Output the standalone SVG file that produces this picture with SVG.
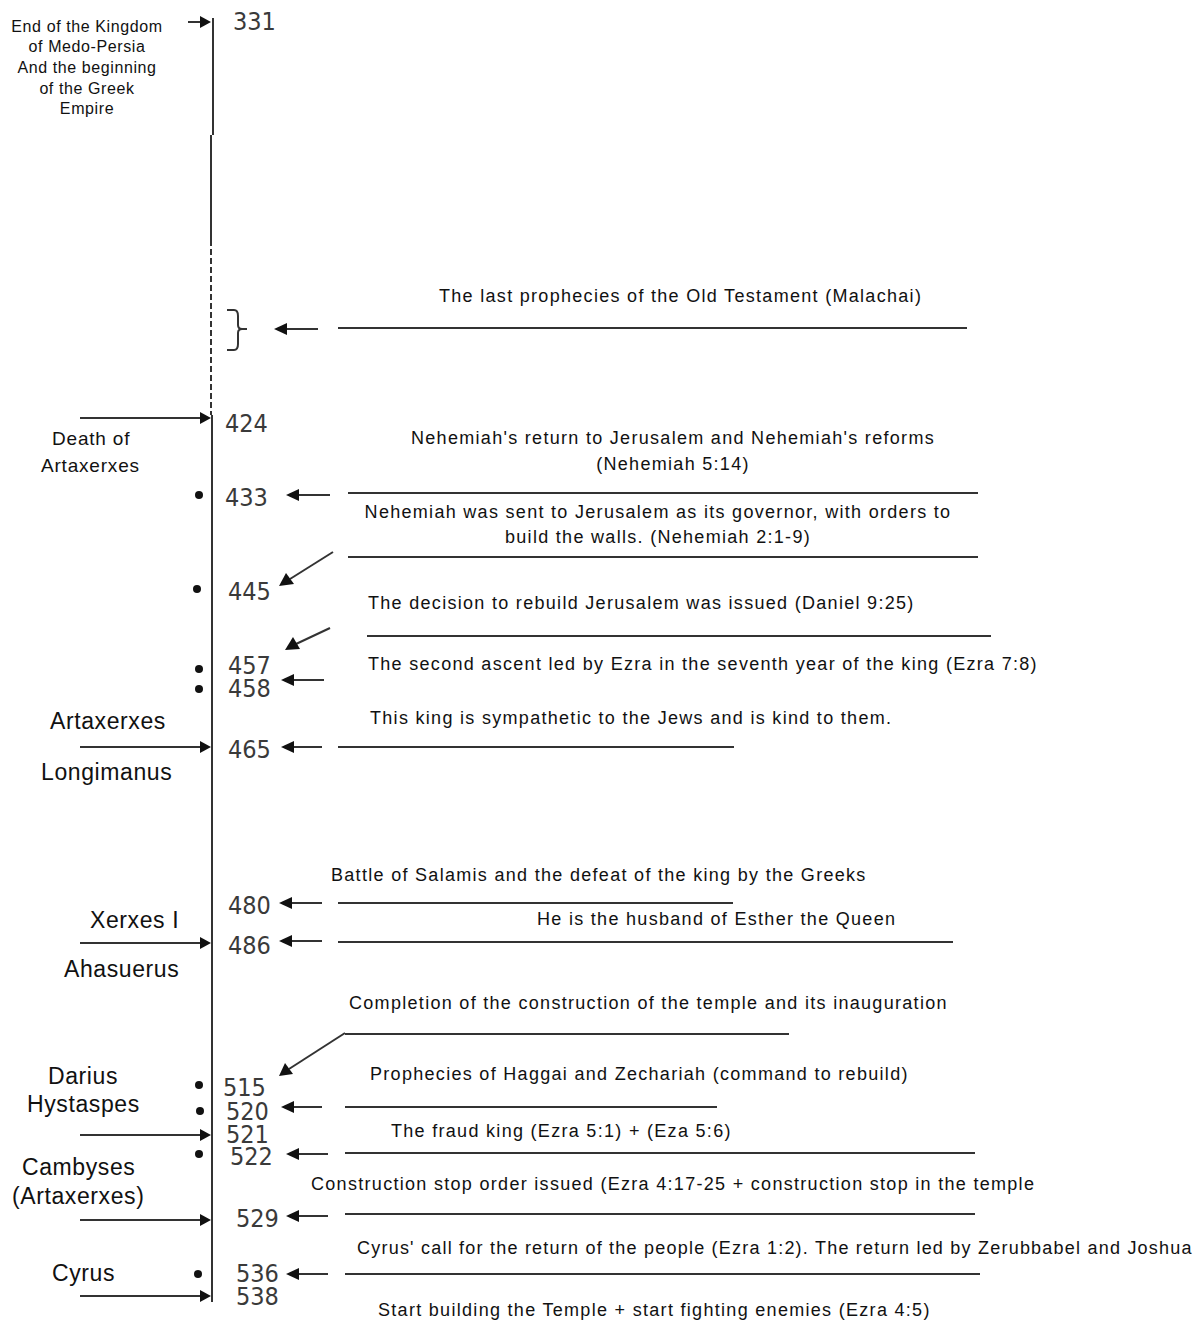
<svg xmlns="http://www.w3.org/2000/svg" width="1200" height="1323" viewBox="0 0 1200 1323">
<style>
.t{font-family:"Liberation Sans",Arial,sans-serif;font-size:18px;letter-spacing:1.3px;fill:#111}
.lt{font-family:"Liberation Sans",Arial,sans-serif;font-size:16px;letter-spacing:0.6px;fill:#111}
.k{font-family:"Liberation Sans",Arial,sans-serif;font-size:23px;letter-spacing:0.6px;fill:#111}
.kd{font-family:"Liberation Sans",Arial,sans-serif;font-size:19px;letter-spacing:0.8px;fill:#111}
.n{font-family:"DejaVu Sans Condensed","DejaVu Sans",sans-serif;font-size:25px;fill:#3a3a3a}
.ln{stroke:#333;stroke-width:2;fill:none}
.dot{fill:#111}
.ah{fill:#111}
</style>
<rect width="1200" height="1323" fill="#fff"/>

<g id="timeline">
<path class="ln" d="M213,18 V135 M211,135 V240"/>
<path class="ln" d="M211,240 V415" stroke-dasharray="6,3"/>
<path class="ln" d="M212,415 V1302"/>
</g>

<g id="connectors">
<line class="ln" x1="188" y1="22" x2="202" y2="22"/><path class="ah" d="M200,16 L211,22 L200,28 z"/>
<line class="ln" x1="80" y1="418" x2="202" y2="418"/><path class="ah" d="M200,412 L211,418 L200,424 z"/>
<line class="ln" x1="80" y1="747" x2="202" y2="747"/><path class="ah" d="M200,741 L211,747 L200,753 z"/>
<line class="ln" x1="80" y1="943" x2="202" y2="943"/><path class="ah" d="M200,937 L211,943 L200,949 z"/>
<line class="ln" x1="80" y1="1135" x2="202" y2="1135"/><path class="ah" d="M200,1129 L211,1135 L200,1141 z"/>
<line class="ln" x1="80" y1="1220" x2="202" y2="1220"/><path class="ah" d="M200,1214 L211,1220 L200,1226 z"/>
<line class="ln" x1="80" y1="1296" x2="202" y2="1296"/><path class="ah" d="M200,1290 L211,1296 L200,1302 z"/>

<line class="ln" x1="318" y1="329" x2="285" y2="329"/><path class="ah" d="M287,323 L274,329 L287,335 z"/>
<line class="ln" x1="330" y1="495" x2="297" y2="495"/><path class="ah" d="M299,489 L286,495 L299,501 z"/>
<line class="ln" x1="324" y1="680" x2="292" y2="680"/><path class="ah" d="M294,674 L281,680 L294,686 z"/>
<line class="ln" x1="322" y1="747" x2="292" y2="747"/><path class="ah" d="M294,741 L281,747 L294,753 z"/>
<line class="ln" x1="322" y1="903" x2="290" y2="903"/><path class="ah" d="M292,897 L279,903 L292,909 z"/>
<line class="ln" x1="322" y1="941" x2="290" y2="941"/><path class="ah" d="M292,935 L279,941 L292,947 z"/>
<line class="ln" x1="322" y1="1107" x2="292" y2="1107"/><path class="ah" d="M294,1101 L281,1107 L294,1113 z"/>
<line class="ln" x1="328" y1="1154" x2="297" y2="1154"/><path class="ah" d="M299,1148 L286,1154 L299,1160 z"/>
<line class="ln" x1="328" y1="1216" x2="297" y2="1216"/><path class="ah" d="M299,1210 L286,1216 L299,1222 z"/>
<line class="ln" x1="328" y1="1274" x2="297" y2="1274"/><path class="ah" d="M299,1268 L286,1274 L299,1280 z"/>

<line class="ln" x1="333" y1="552" x2="290" y2="579" stroke-width="1.6"/><path class="ah" d="M286,573 L279,586 L294,584 z"/>
<line class="ln" x1="330" y1="628" x2="296" y2="644" stroke-width="1.6"/><path class="ah" d="M293,637 L285,650 L300,649 z"/>
<line class="ln" x1="345" y1="1033" x2="289" y2="1069" stroke-width="1.6"/><path class="ah" d="M285,1063 L279,1076 L293,1074 z"/>

<line class="ln" x1="338" y1="328" x2="967" y2="328"/>
<line class="ln" x1="348" y1="493" x2="978" y2="493"/>
<line class="ln" x1="348" y1="557" x2="978" y2="557"/>
<line class="ln" x1="367" y1="636" x2="991" y2="636"/>
<line class="ln" x1="338" y1="747" x2="734" y2="747"/>
<line class="ln" x1="338" y1="903" x2="733" y2="903"/>
<line class="ln" x1="338" y1="942" x2="953" y2="942"/>
<line class="ln" x1="345" y1="1034" x2="789" y2="1034"/>
<line class="ln" x1="345" y1="1107" x2="717" y2="1107"/>
<line class="ln" x1="345" y1="1153" x2="975" y2="1153"/>
<line class="ln" x1="345" y1="1214" x2="975" y2="1214"/>
<line class="ln" x1="345" y1="1274" x2="980" y2="1274"/>
</g>

<g id="bracket">
<path class="ln" d="M227,310 H234 Q238,310 238,316 V325 Q238,329 242,329 H247 M242,329 Q238,329 238,333 V344 Q238,350 234,350 H227" stroke-width="1.8"/>
</g>

<g id="dots">
<circle class="dot" cx="199" cy="495" r="4"/>
<circle class="dot" cx="197" cy="589" r="4"/>
<circle class="dot" cx="199" cy="669" r="4"/>
<circle class="dot" cx="199" cy="689" r="4"/>
<circle class="dot" cx="199" cy="1085" r="4"/>
<circle class="dot" cx="200" cy="1111" r="4"/>
<circle class="dot" cx="199" cy="1154" r="4"/>
<circle class="dot" cx="198" cy="1274" r="4"/>
</g>

<g id="years">
<text class="n" x="233" y="30">331</text>
<text class="n" x="225" y="432">424</text>
<text class="n" x="225" y="506">433</text>
<text class="n" x="228" y="600">445</text>
<text class="n" x="228" y="674">457</text>
<text class="n" x="228" y="697">458</text>
<text class="n" x="228" y="758">465</text>
<text class="n" x="228" y="914">480</text>
<text class="n" x="228" y="954">486</text>
<text class="n" x="223" y="1096">515</text>
<text class="n" x="226" y="1120">520</text>
<text class="n" x="226" y="1143">521</text>
<text class="n" x="230" y="1165">522</text>
<text class="n" x="236" y="1227">529</text>
<text class="n" x="236" y="1282">536</text>
<text class="n" x="236" y="1305">538</text>
</g>

<g id="kings">
<text class="lt" text-anchor="middle"><tspan x="87" y="32">End of the Kingdom</tspan><tspan x="87" y="52">of Medo-Persia</tspan><tspan x="87" y="73">And the beginning</tspan><tspan x="87" y="94">of the Greek</tspan><tspan x="87" y="114">Empire</tspan></text>
<text class="kd" x="52" y="445">Death of</text>
<text class="kd" x="41" y="472">Artaxerxes</text>
<text class="k" x="50" y="729">Artaxerxes</text>
<text class="k" x="41" y="780">Longimanus</text>
<text class="k" x="90" y="928">Xerxes I</text>
<text class="k" x="64" y="977">Ahasuerus</text>
<text class="k" x="48" y="1084">Darius</text>
<text class="k" x="27" y="1112">Hystaspes</text>
<text class="k" x="22" y="1175">Cambyses</text>
<text class="k" x="12" y="1204">(Artaxerxes)</text>
<text class="k" x="52" y="1281">Cyrus</text>
</g>

<g id="events">
<text class="t" x="439" y="302">The last prophecies of the Old Testament (Malachai)</text>
<text class="t" x="673" y="444" text-anchor="middle">Nehemiah's return to Jerusalem and Nehemiah's reforms</text>
<text class="t" x="673" y="470" text-anchor="middle">(Nehemiah 5:14)</text>
<text class="t" x="658" y="518" text-anchor="middle">Nehemiah was sent to Jerusalem as its governor, with orders to</text>
<text class="t" x="658" y="543" text-anchor="middle">build the walls. (Nehemiah 2:1-9)</text>
<text class="t" x="368" y="609">The decision to rebuild Jerusalem was issued (Daniel 9:25)</text>
<text class="t" x="368" y="670">The second ascent led by Ezra in the seventh year of the king (Ezra 7:8)</text>
<text class="t" x="370" y="724">This king is sympathetic to the Jews and is kind to them.</text>
<text class="t" x="331" y="881">Battle of Salamis and the defeat of the king by the Greeks</text>
<text class="t" x="537" y="925">He is the husband of Esther the Queen</text>
<text class="t" x="349" y="1009">Completion of the construction of the temple and its inauguration</text>
<text class="t" x="370" y="1080">Prophecies of Haggai and Zechariah (command to rebuild)</text>
<text class="t" x="391" y="1137">The fraud king (Ezra 5:1) + (Eza 5:6)</text>
<text class="t" x="311" y="1190">Construction stop order issued (Ezra 4:17-25 + construction stop in the temple</text>
<text class="t" x="357" y="1254" style="letter-spacing:1.22px">Cyrus' call for the return of the people (Ezra 1:2). The return led by Zerubbabel and Joshua</text>
<text class="t" x="378" y="1316">Start building the Temple + start fighting enemies (Ezra 4:5)</text>
</g>
</svg>
